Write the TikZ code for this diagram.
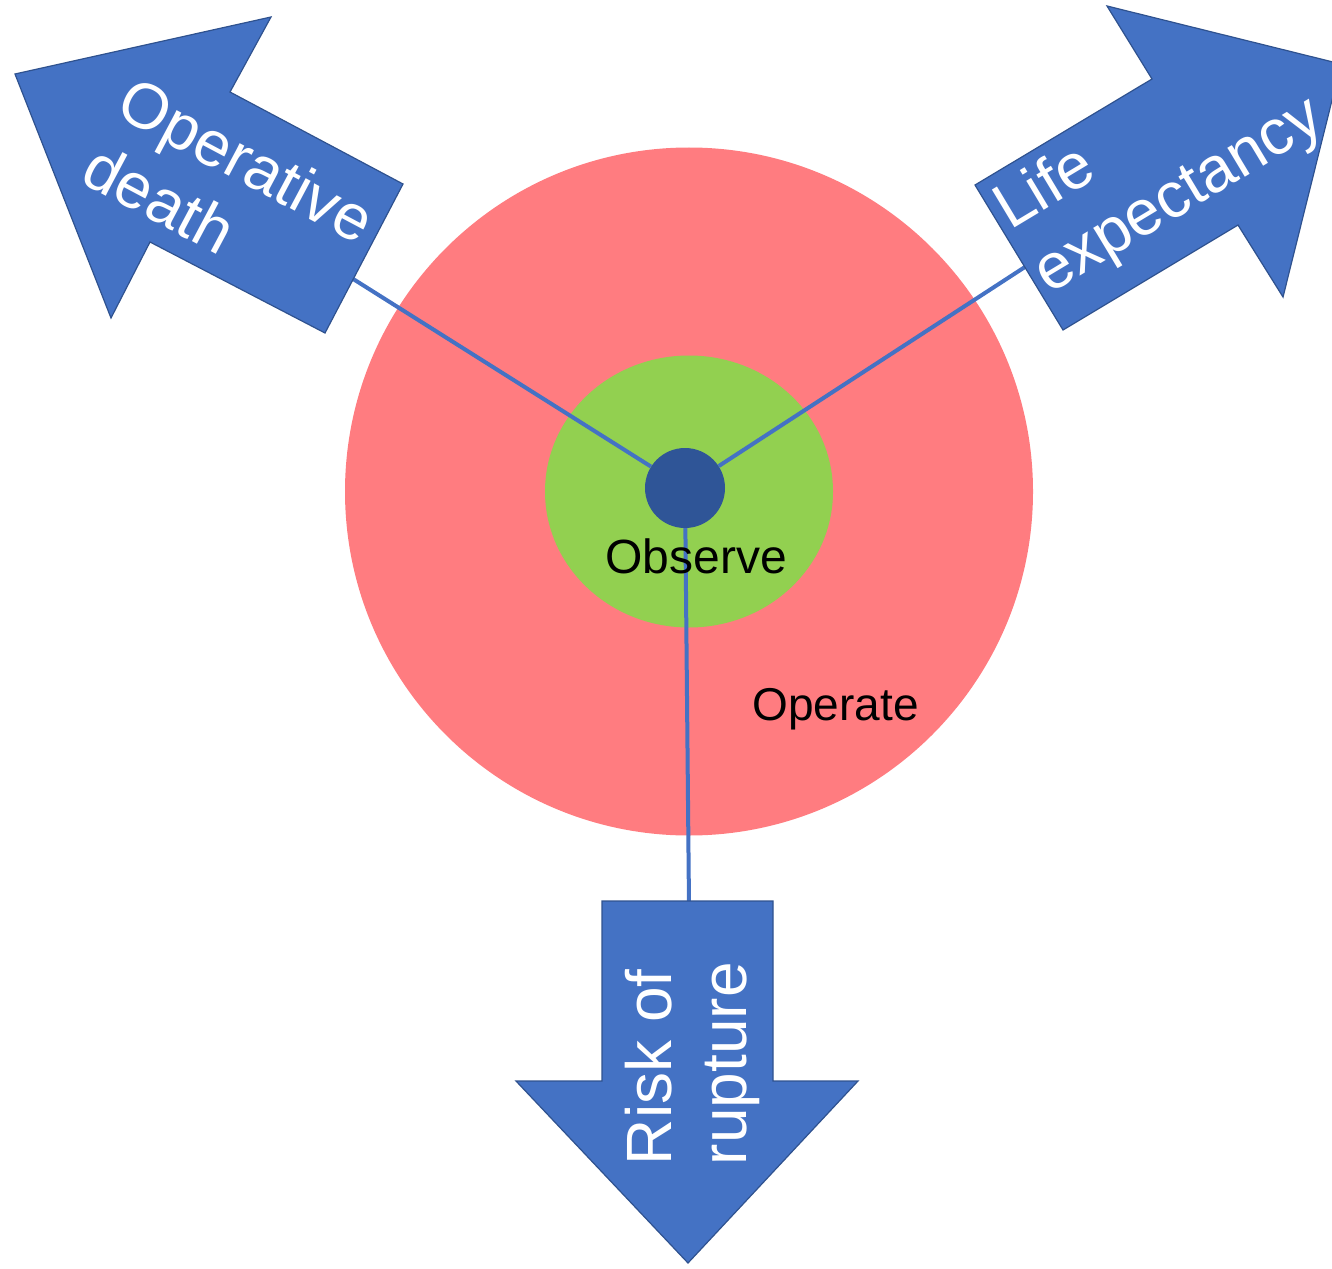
\documentclass[tikz,border=0pt]{standalone}
\usepackage{fontspec}
\setmainfont{Liberation Sans}
\definecolor{ringred}{HTML}{FF7C80}
\definecolor{ringgreen}{HTML}{92D050}
\definecolor{hubblue}{HTML}{2F5597}
\definecolor{arrowblue}{HTML}{4472C4}
\definecolor{arrowedge}{HTML}{2F528F}
\begin{document}
\begin{tikzpicture}[x=1pt,y=-1pt,
  bigarrow/.style={fill=arrowblue, draw=arrowedge, line width=1.2pt, line join=miter},
  arrowtext/.style={text=white, font=\fontsize{64}{75}\selectfont, align=left, inner sep=0pt},
  link/.style={draw=arrowblue, line width=4pt},
  ringlabel/.style={inner sep=0pt, text=black},
  hubdot/.style={circle, fill=hubblue, minimum size=80pt, inner sep=0pt}]
\useasboundingbox (0,0) rectangle (1332,1268);
\clip (0,0) rectangle (1332,1268);
% rings
\fill[ringred] (689,491.5) circle[radius=344];
\fill[ringgreen] (689,491.5) ellipse[x radius=144, y radius=136];
% hub and connectors
\node[hubdot] (hub) at (685,488) {};
\coordinate (od) at (350,277);
\coordinate (le) at (1028,265);
\coordinate (rr) at (689,906);
\draw[link] (hub) -- (od);
\draw[link] (hub) -- (le);
\draw[link] (hub) -- (rr);
% ring labels
\node[ringlabel, font=\fontsize{48}{54}\selectfont, anchor=base] (observe) at (696,573) {Observe};
\node[ringlabel, font=\fontsize{46}{52}\selectfont, anchor=base] (operate) at (835.5,720) {Operate};
% arrows
\draw[bigarrow] (15,74) -- (271,17) -- (230,92) -- (403,184) -- (325,333) -- (150,242) -- (111,318) -- cycle;
\draw[bigarrow] (1341,64) -- (1283,297) -- (1238,225) -- (1063,330) -- (975,185) -- (1152,79) -- (1107,6) -- cycle;
\draw[bigarrow] (602,901) -- (773,901) -- (773,1081) -- (858,1081) -- (688,1263) -- (516,1081) -- (602,1081) -- cycle;
% arrow texts
\node[arrowtext, rotate=-28] (odtext) at (229.2,193) {Operative\\death};
\node[arrowtext, rotate=31] (letext) at (1160,165) {Life\\expectancy};
\node[arrowtext, rotate=90] (rrtext) at (692.9,1063.6) {Risk of\\rupture};
\end{tikzpicture}
\end{document}
